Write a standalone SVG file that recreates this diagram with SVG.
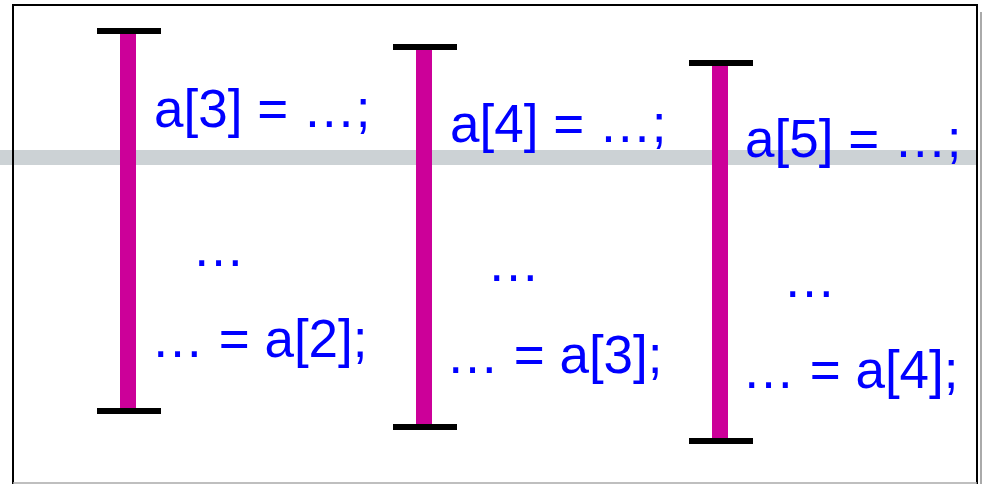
<svg xmlns="http://www.w3.org/2000/svg" width="984" height="484" viewBox="0 0 984 484">
<style>
.t{font-family:"Liberation Sans",Arial,sans-serif;font-size:53px;fill:#0000ff}
.bar{fill:#cc0099}
.cap{fill:#000}
</style>
<rect x="0" y="0" width="984" height="484" fill="#fff"/>
<rect x="0" y="150" width="977" height="15" fill="#ccd2d5"/>
<g id="frame" fill="none">
<path d="M13 484 V5 H977 V484" stroke="#000" stroke-width="2"/>
<path d="M981 12 V484" stroke="#aaa" stroke-width="2"/>
<path d="M13 483 H977" stroke="#aaa" stroke-width="1.5"/>
</g>
<g id="connectors"></g>
<g id="thread1">
<rect class="bar" x="120" y="31" width="16" height="380"/>
<rect class="cap" x="97" y="28" width="64" height="6"/>
<rect class="cap" x="97" y="408" width="64" height="6"/>
<text class="t" x="154" y="127">a[3] = …;</text>
<text class="t" x="192" y="266">…</text>
<text class="t" x="151" y="357">… = a[2];</text>
</g>
<g id="thread2">
<rect class="bar" x="416" y="47" width="16" height="380"/>
<rect class="cap" x="393" y="44" width="64" height="6"/>
<rect class="cap" x="393" y="424" width="64" height="6"/>
<text class="t" x="450" y="142">a[4] = …;</text>
<text class="t" x="487" y="281">…</text>
<text class="t" x="446" y="373">… = a[3];</text>
</g>
<g id="thread3">
<rect class="bar" x="712" y="63" width="16" height="378"/>
<rect class="cap" x="689" y="60" width="64" height="6"/>
<rect class="cap" x="689" y="438" width="64" height="6"/>
<text class="t" x="745" y="157">a[5] = …;</text>
<text class="t" x="783" y="297">…</text>
<text class="t" x="742" y="388">… = a[4];</text>
</g>
</svg>
